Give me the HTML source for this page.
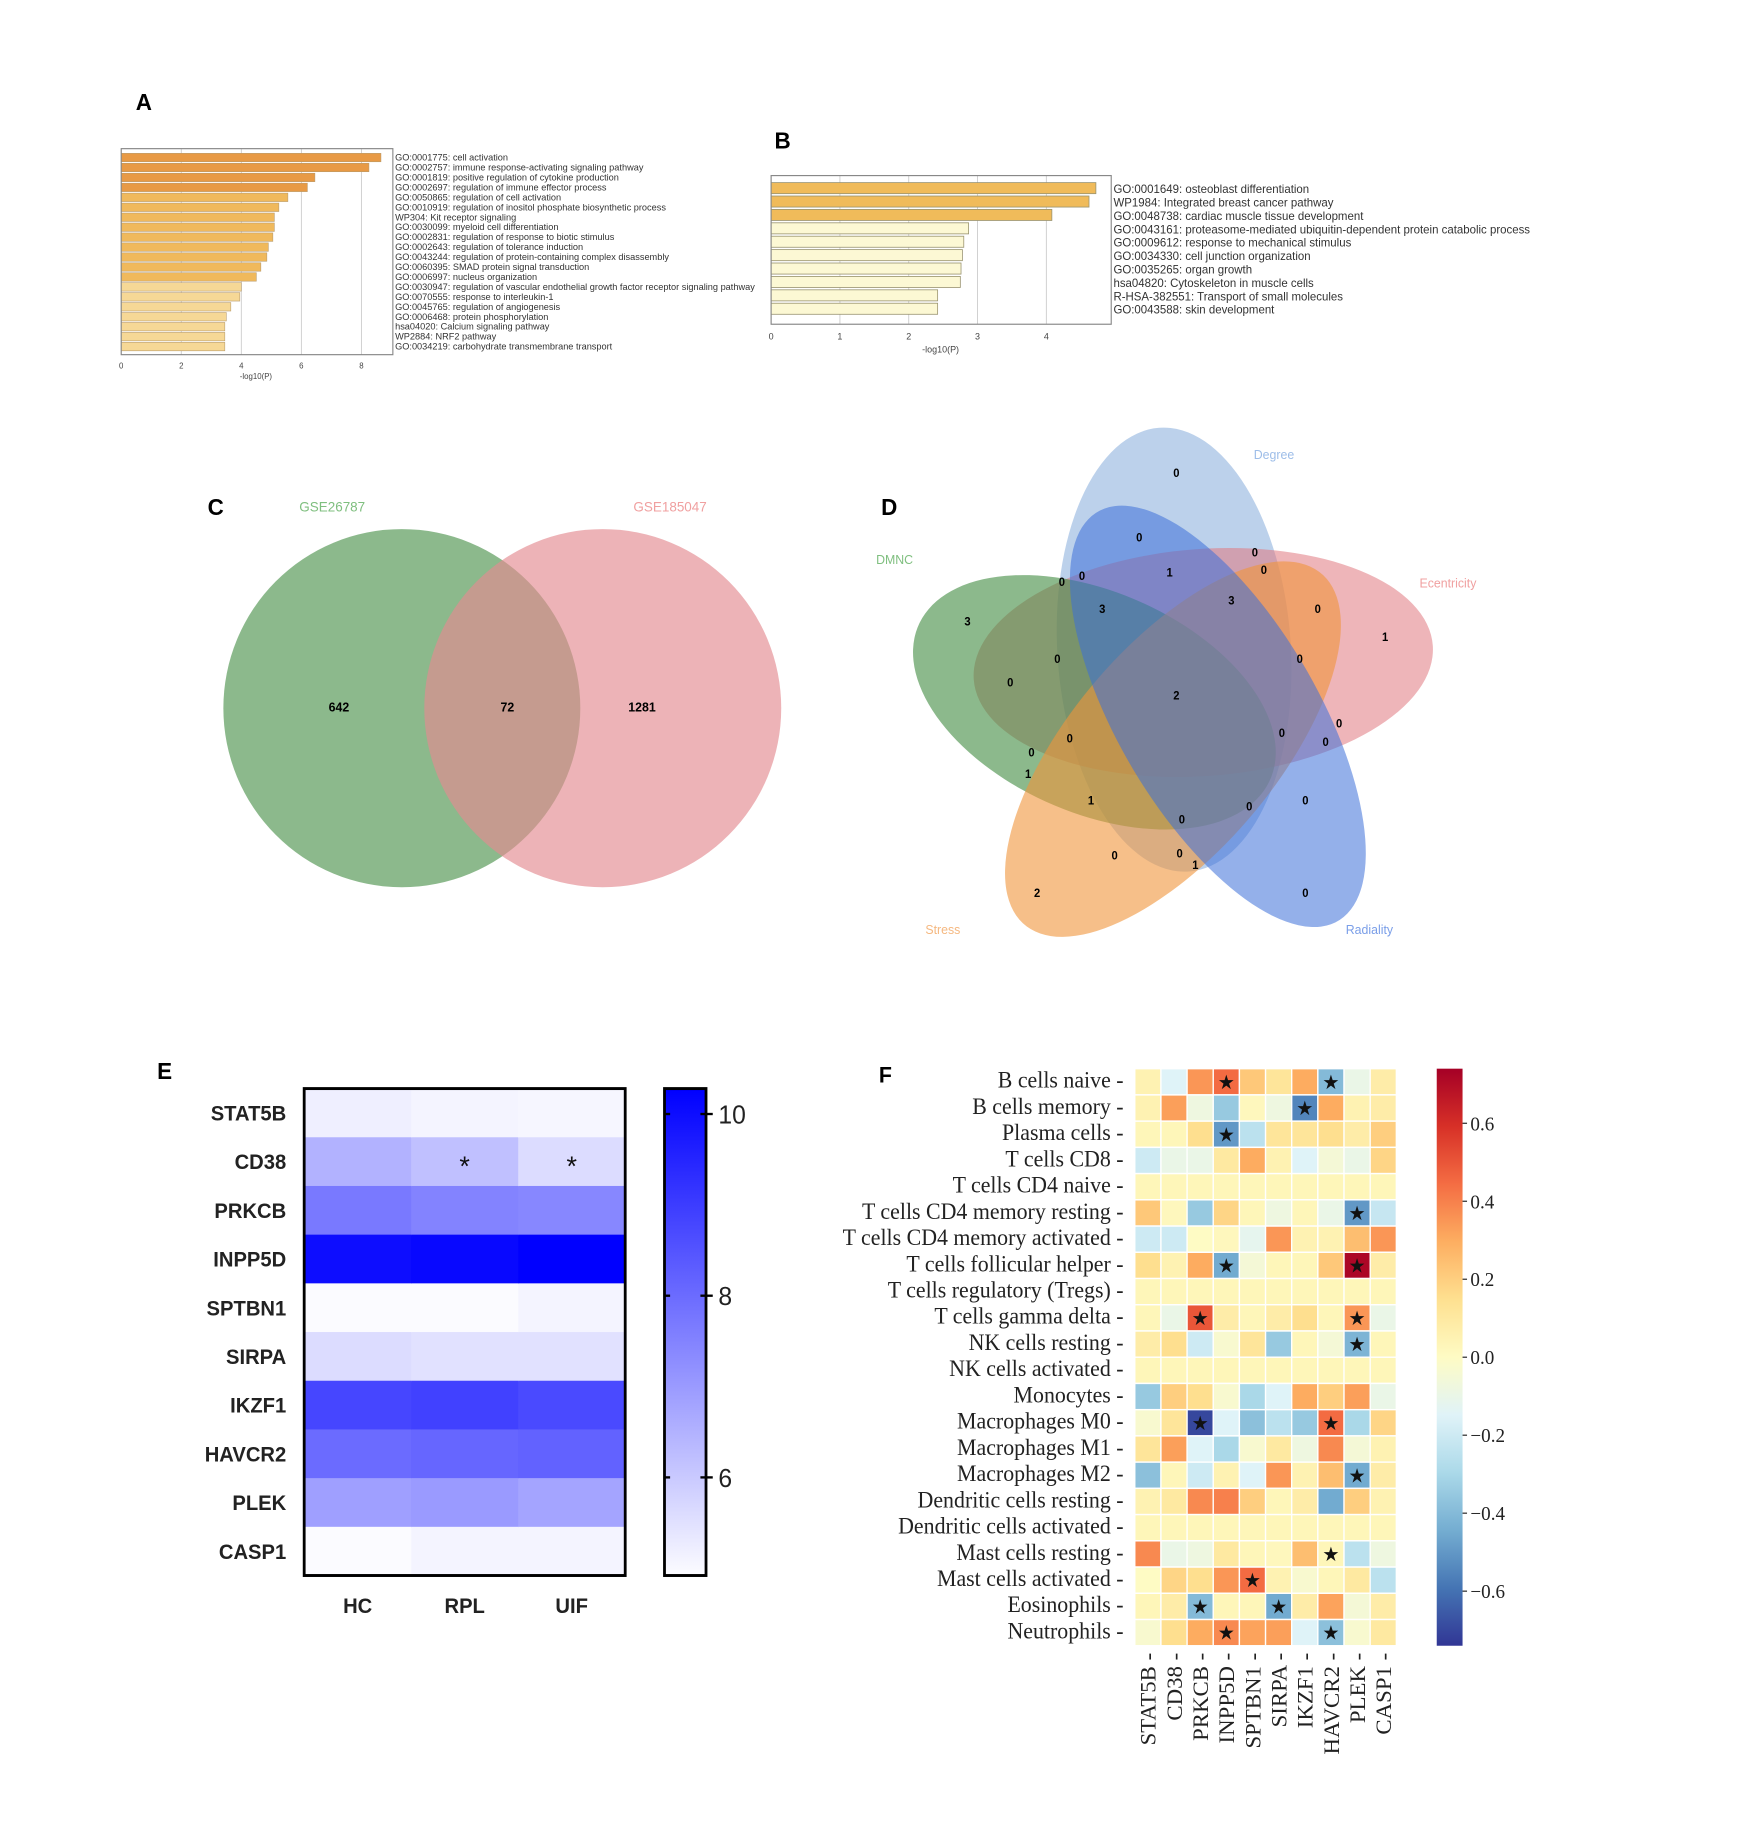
<!DOCTYPE html>
<html><head><meta charset="utf-8"><style>
html,body{margin:0;padding:0;background:#fff;}
svg{display:block;}
</style></head><body>
<svg id="fig" xmlns="http://www.w3.org/2000/svg" width="1760" height="1826" viewBox="0 0 1568 1560" preserveAspectRatio="none" font-family="Liberation Sans, sans-serif">
<rect width="1568" height="1560" fill="#fff"/>
<g id="pA"></g>
<g id="pB"></g>
<g id="pC">
  <text x="185" y="440" font-size="20" font-weight="bold">C</text>
  <ellipse cx="358" cy="605" rx="159" ry="153" fill="#4e934e" fill-opacity="0.65"/>
  <ellipse cx="537" cy="605" rx="159" ry="153" fill="#e48a90" fill-opacity="0.65"/>
  <text x="296" y="437" font-size="12" fill="#7fbf7f" text-anchor="middle">GSE26787</text>
  <text x="597" y="437" font-size="12" fill="#f0a0a0" text-anchor="middle">GSE185047</text>
  <text x="302" y="608" font-size="11" font-weight="bold" text-anchor="middle">642</text>
  <text x="452" y="608" font-size="11" font-weight="bold" text-anchor="middle">72</text>
  <text x="572" y="608" font-size="11" font-weight="bold" text-anchor="middle">1281</text>
</g>
<g id="pD">
  <text x="785" y="440" font-size="20" font-weight="bold">D</text>
  <ellipse cx="1046" cy="555" rx="104" ry="190" transform="rotate(-4 1046 555)" fill="#8fb3de" fill-opacity="0.6"/>
  <ellipse cx="1072" cy="566" rx="205" ry="97" transform="rotate(-4 1072 566)" fill="#e0787f" fill-opacity="0.55"/>
  <ellipse cx="975" cy="600" rx="170" ry="95" transform="rotate(22 975 600)" fill="#3f8a3f" fill-opacity="0.6"/>
  <ellipse cx="1045" cy="640" rx="200" ry="90" transform="rotate(-48 1045 640)" fill="#f0953a" fill-opacity="0.6"/>
  <ellipse cx="1085" cy="612" rx="205" ry="88" transform="rotate(58 1085 612)" fill="#3c6fd8" fill-opacity="0.55"/>
  <text x="1135" y="392" font-size="11" fill="#9dbde8" text-anchor="middle">Degree</text>
  <text x="797" y="482" font-size="11" fill="#7fbf7f" text-anchor="middle">DMNC</text>
  <text x="1290" y="502" font-size="11" fill="#f0a0a0" text-anchor="middle">Ecentricity</text>
  <text x="840" y="798" font-size="11" fill="#f5b880" text-anchor="middle">Stress</text>
  <text x="1220" y="798" font-size="11" fill="#7a9ee8" text-anchor="middle">Radiality</text>
  <g id="dnums" font-size="10" font-weight="bold" text-anchor="middle"></g>
</g>
<g id="pE" transform="translate(0,-4)"></g>
<g id="pF" transform="translate(0,-4)"></g>
</svg>
<script>
const NS='http://www.w3.org/2000/svg';
function mk(parent,tag,attrs,txt){const e=document.createElementNS(NS,tag);for(const k in attrs)e.setAttribute(k,attrs[k]);if(txt!==undefined)e.textContent=txt;parent.appendChild(e);return e;}

// ---------- Panel A data ----------
const aTerms=["GO:0001775: cell activation","GO:0002757: immune response-activating signaling pathway","GO:0001819: positive regulation of cytokine production","GO:0002697: regulation of immune effector process","GO:0050865: regulation of cell activation","GO:0010919: regulation of inositol phosphate biosynthetic process","WP304: Kit receptor signaling","GO:0030099: myeloid cell differentiation","GO:0002831: regulation of response to biotic stimulus","GO:0002643: regulation of tolerance induction","GO:0043244: regulation of protein-containing complex disassembly","GO:0060395: SMAD protein signal transduction","GO:0006997: nucleus organization","GO:0030947: regulation of vascular endothelial growth factor receptor signaling pathway","GO:0070555: response to interleukin-1","GO:0045765: regulation of angiogenesis","GO:0006468: protein phosphorylation","hsa04020: Calcium signaling pathway","WP2884: NRF2 pathway","GO:0034219: carbohydrate transmembrane transport"];
const aValues=[8.65,8.25,6.45,6.2,5.55,5.25,5.1,5.1,5.05,4.9,4.85,4.65,4.5,4.0,3.95,3.65,3.5,3.45,3.45,3.45];
const aTicks=[0,2,4,6,8];
// ---------- Panel B data ----------
const bTerms=["GO:0001649: osteoblast differentiation","WP1984: Integrated breast cancer pathway","GO:0048738: cardiac muscle tissue development","GO:0043161: proteasome-mediated ubiquitin-dependent protein catabolic process","GO:0009612: response to mechanical stimulus","GO:0034330: cell junction organization","GO:0035265: organ growth","hsa04820: Cytoskeleton in muscle cells","R-HSA-382551: Transport of small molecules","GO:0043588: skin development"];
const bValues=[4.72,4.62,4.08,2.87,2.8,2.78,2.76,2.75,2.42,2.42];
const bTicks=[0,1,2,3,4];
// ---------- Panel D numbers ----------
const dNums=[["0",1048,404],["0",1015,459],["1",1042,489],["0",1118,472],["0",1126,487],["0",946,497],["0",964,492],["3",982,520],["3",1097,513],["0",1174,520],["3",862,531],["1",1234,544],["0",942,563],["0",1158,563],["0",900,583],["2",1048,594],["0",1193,618],["0",1142,626],["0",1181,634],["0",953,631],["0",919,643],["1",916,661],["1",972,684],["0",1113,689],["0",1163,684],["0",1053,700],["0",993,731],["0",1051,729],["1",1065,739],["2",924,763],["0",1163,763]];
// ---------- Panel E data ----------
const eGenes=["STAT5B","CD38","PRKCB","INPP5D","SPTBN1","SIRPA","IKZF1","HAVCR2","PLEK","CASP1"];
const eGroups=["HC","RPL","UIF"];
const eHC=[5.2,6.5,7.7,10.0,4.95,5.6,8.8,8.0,6.9,4.95];
const eRPL=[5.1,6.2,7.5,10.1,4.95,5.5,8.9,8.1,7.0,5.1];
const eUIF=[5.05,5.6,7.4,10.3,5.1,5.5,8.7,8.2,6.8,5.1];
const eStars=[[1,1],[1,2]];
const eTicks=[6,8,10];
// ---------- Panel F data ----------
const fCells=["B cells naive","B cells memory","Plasma cells","T cells CD8","T cells CD4 naive","T cells CD4 memory resting","T cells CD4 memory activated","T cells follicular helper","T cells regulatory (Tregs)","T cells gamma delta","NK cells resting","NK cells activated","Monocytes","Macrophages M0","Macrophages M1","Macrophages M2","Dendritic cells resting","Dendritic cells activated","Mast cells resting","Mast cells activated","Eosinophils","Neutrophils"];
const fGenes=["STAT5B","CD38","PRKCB","INPP5D","SPTBN1","SIRPA","IKZF1","HAVCR2","PLEK","CASP1"];
const fR0=[0.05,-0.15,0.35,0.45,0.22,0.12,0.3,-0.4,-0.1,0.08];
const fR1=[0.05,0.33,-0.08,-0.35,0.02,-0.08,-0.55,0.3,0.05,0.08];
const fR2=[0.03,0.03,0.15,-0.5,-0.25,0.12,0.12,0.15,0.08,0.2];
const fR3=[-0.2,-0.1,-0.1,0.1,0.3,0.05,-0.15,-0.05,-0.1,0.18];
const fR4=[0.03,0.03,0.03,0.03,0.03,0.03,0.03,0.03,0.03,0.03];
const fR5=[0.22,0.02,-0.35,0.18,0.03,-0.08,0.03,-0.1,-0.5,-0.22];
const fR6=[-0.2,-0.2,0.0,0.02,-0.12,0.35,0.05,0.05,0.25,0.35];
const fR7=[0.15,0.05,0.3,-0.45,-0.05,0.03,0.03,0.22,0.72,0.08];
const fR8=[0.03,0.03,0.03,0.03,0.03,0.03,0.03,0.03,0.03,0.03];
const fR9=[0.03,-0.1,0.5,0.08,0.03,0.08,0.15,0.03,0.35,-0.1];
const fR10=[0.08,0.15,-0.2,-0.03,0.12,-0.35,0.03,-0.05,-0.42,0.03];
const fR11=[0.03,0.03,0.03,0.03,0.03,0.03,0.03,0.03,0.03,0.03];
const fR12=[-0.35,0.2,0.15,-0.03,-0.3,-0.15,0.3,0.2,0.33,-0.1];
const fR13=[-0.03,0.12,-0.7,-0.15,-0.38,-0.25,-0.35,0.45,-0.3,0.18];
const fR14=[0.12,0.33,-0.15,-0.3,-0.03,0.1,-0.08,0.38,-0.05,0.05];
const fR15=[-0.38,0.03,-0.2,0.05,-0.15,0.35,0.05,0.25,-0.45,0.08];
const fR16=[0.05,0.1,0.38,0.4,0.2,0.03,0.08,-0.45,0.2,0.05];
const fR17=[0.03,0.03,0.03,0.03,0.03,0.03,0.03,0.03,0.03,0.03];
const fR18=[0.38,-0.1,-0.08,0.1,0.03,0.02,0.25,0.03,-0.25,-0.08];
const fR19=[0.0,0.18,0.15,0.35,0.45,0.05,-0.03,0.03,0.1,-0.25];
const fR20=[0.03,0.08,-0.4,0.03,0.03,-0.45,0.08,0.32,-0.05,0.08];
const fR21=[-0.03,0.15,0.3,0.38,0.32,0.33,-0.15,-0.38,-0.03,0.1];
const fStars=[[0,3],[0,7],[1,6],[2,3],[5,8],[7,3],[7,8],[9,2],[9,8],[10,8],[13,2],[13,7],[15,8],[18,7],[19,4],[20,2],[20,5],[21,3],[21,7]];
const fTicks=[0.6,0.4,0.2,0.0,-0.2,-0.4,-0.6];

// ===== Panel A =====
(function(){
const g=document.getElementById('pA');
mk(g,'text',{x:121,y:94,'font-size':20,'font-weight':'bold',},'A');
const L=108,T=127,R=350,B=303,x0=108,pu=26.75;
const sx=v=>x0+v*pu;
const pitch=(B-T-6)/aValues.length;
aTicks.forEach(t=>{
  const gl=mk(g,'line',{x1:sx(t),x2:sx(t),y1:T,y2:B,stroke:'#ccc','stroke-width':0.8});
  
  const tl=mk(g,'text',{x:sx(t),y:315,'font-size':7,fill:'#444','text-anchor':'middle'},String(t));
  
});
aValues.forEach((v,i)=>{
  const y=T+4+i*pitch;
  const f=i<4?'#e89a45':(i<13?'#f0b95c':'#f6d896');
  const r=mk(g,'rect',{x:L,y:y,width:sx(v)-L,height:pitch-1.3,fill:f,stroke:'#b89a6a','stroke-width':0.5});
  
  const t=mk(g,'text',{x:352,y:y+pitch-2.3,'font-size':8.2,fill:'#333'},aTerms[i]);
  
});
const fr=mk(g,'rect',{x:L,y:T,width:R-L,height:B-T,fill:'none',stroke:'#888','stroke-width':1});

const xl=mk(g,'text',{x:228,y:324,'font-size':7,fill:'#444','text-anchor':'middle'},'-log10(P)');

})();

// ===== Panel B =====
(function(){
const g=document.getElementById('pB');
mk(g,'text',{x:690,y:127,'font-size':20,'font-weight':'bold',},'B');
const L=687,T=150,R=990,B=277,x0=687,pu=61.3;
const sx=v=>x0+v*pu;
const pitch=11.45;
bTicks.forEach(t=>{
  const gl=mk(g,'line',{x1:sx(t),x2:sx(t),y1:T,y2:B,stroke:'#ccc','stroke-width':0.8});
  
  const tl=mk(g,'text',{x:sx(t),y:290,'font-size':8,fill:'#444','text-anchor':'middle'},String(t));
  
});
bValues.forEach((v,i)=>{
  const y=T+6+i*pitch;
  const f=i<3?'#f0bb5a':'#fcf8d4';
  const r=mk(g,'rect',{x:L,y:y,width:sx(v)-L,height:pitch-2,fill:f,stroke:'#9a9470','stroke-width':0.7});
  
  const t=mk(g,'text',{x:992,y:y+pitch-2.5,'font-size':10.2,fill:'#333'},bTerms[i]);
  
});
const fr=mk(g,'rect',{x:L,y:T,width:R-L,height:B-T,fill:'none',stroke:'#888','stroke-width':1});

const xl=mk(g,'text',{x:838,y:301,'font-size':8,fill:'#444','text-anchor':'middle'},'-log10(P)');

})();

// ===== Panel D numbers =====
(function(){
const g=document.getElementById('dnums');
dNums.forEach(d=>{
  const t=mk(g,'text',{x:d[1],y:d[2]+3.5},d[0]);
  
});
})();

// ===== Panel E =====
(function(){
const g=document.getElementById('pE');
mk(g,'text',{x:140,y:926,'font-size':20,'font-weight':'bold',},'E');
const L=271,T=934,R=557,B=1350;
const cols=[eHC,eRPL,eUIF];
const cw=(R-L)/3,rh=(B-T)/eGenes.length;
const vmin=4.92,vmax=10.28;
const col=v=>{const t=Math.max(0,Math.min(1,(v-vmin)/(vmax-vmin)));return `rgb(${Math.round(252-252*t)},${Math.round(252-252*t)},255)`;};
cols.forEach((arr,j)=>arr.forEach((v,i)=>{
  const r=mk(g,'rect',{x:L+j*cw,y:T+i*rh,width:cw+0.5,height:rh+0.5,fill:col(v)});
  
}));
eStars.forEach(s=>{
  const t=mk(g,'text',{x:L+(s[1]+0.5)*cw,y:T+(s[0]+0.5)*rh+12,'font-size':24,'text-anchor':'middle',fill:'#111'},'*');
  
});
const fr=mk(g,'rect',{x:L,y:T,width:R-L,height:B-T,fill:'none',stroke:'#000','stroke-width':2.5});

eGenes.forEach((n,i)=>{
  const t=mk(g,'text',{x:255,y:T+(i+0.5)*rh+6.5,'font-size':18,'font-weight':'bold','text-anchor':'end',fill:'#222'},n);
  
});
eGroups.forEach((n,j)=>{
  const t=mk(g,'text',{x:L+(j+0.5)*cw,y:1382,'font-size':18,'font-weight':'bold','text-anchor':'middle',fill:'#222'},n);
  
});
const cL=592,cR=629;
const defs=mk(g,'defs',{});
const lg=mk(defs,'linearGradient',{id:'eg',x1:0,y1:1,x2:0,y2:0});
mk(lg,'stop',{offset:0,'stop-color':'rgb(252,252,255)'});
mk(lg,'stop',{offset:1,'stop-color':'rgb(0,0,255)'});
const cb=mk(g,'rect',{x:cL,y:T,width:cR-cL,height:B-T,fill:'url(#eg)',stroke:'#000','stroke-width':2.5});

const cy=v=>B-(v-vmin)/(vmax-vmin)*(B-T);
eTicks.forEach(v=>{
  mk(g,'line',{x1:cL,x2:cL+5,y1:cy(v),y2:cy(v),stroke:'#000','stroke-width':2});
  mk(g,'line',{x1:cR-5,x2:cR+6,y1:cy(v),y2:cy(v),stroke:'#000','stroke-width':2});
  const t=mk(g,'text',{x:640,y:cy(v)+8,'font-size':22,fill:'#222'},String(v));
  
});
})();

// ===== Panel F =====
(function(){
const g=document.getElementById('pF');
mk(g,'text',{x:783,y:929,'font-size':19,'font-weight':'bold',},'F');
const rows=[fR0,fR1,fR2,fR3,fR4,fR5,fR6,fR7,fR8,fR9,fR10,fR11,fR12,fR13,fR14,fR15,fR16,fR17,fR18,fR19,fR20,fR21];
const L=1011,R=1244,T=917,B=1410;
const cw=(R-L)/fGenes.length,rh=(B-T)/fCells.length;
const vmin=-0.74,vmax=0.74;
const stops=['#313695','#4575b4','#74add1','#abd9e9','#e0f3f8','#fefbc4','#fee090','#fdae61','#f46d43','#d73027','#a50026'];
const hx=h=>[1,3,5].map(i=>parseInt(h.substr(i,2),16));
const cmap=v=>{let t=(v-vmin)/(vmax-vmin);t=Math.max(0,Math.min(1,t))*10;const i=Math.min(9,Math.floor(t)),f=t-i;const a=hx(stops[i]),b=hx(stops[i+1]);return `rgb(${a.map((c,k)=>Math.round(c+(b[k]-c)*f)).join(',')})`;};
rows.forEach((arr,i)=>arr.forEach((v,j)=>{
  const r=mk(g,'rect',{x:L+j*cw,y:T+i*rh,width:cw,height:rh,fill:cmap(v),stroke:'#fff','stroke-width':1.2});
  
}));
fStars.forEach(s=>{
  const t=mk(g,'text',{x:L+(s[1]+0.5)*cw,y:T+(s[0]+0.5)*rh+6,'font-size':17,'text-anchor':'middle',fill:'#111','font-family':'DejaVu Sans, sans-serif'},'\u2605');
  
});
fCells.forEach((n,i)=>{
  const t=mk(g,'text',{x:1001,y:T+(i+0.5)*rh+5,'font-size':19.5,'text-anchor':'end',fill:'#222','font-family':'Liberation Serif, serif'},n+' -');
  
});
fGenes.forEach((n,j)=>{
  const x=L+(j+0.5)*cw;
  const t=mk(g,'text',{x:x+7,y:1416,'font-size':19.5,'text-anchor':'end',fill:'#222','font-family':'Liberation Serif, serif',transform:`rotate(-90 ${x+7} 1416)`},n+' -');
  
});
const cL=1280,cR=1303;
const defs=mk(g,'defs',{});
const lg=mk(defs,'linearGradient',{id:'fg',x1:0,y1:1,x2:0,y2:0});
stops.forEach((c,k)=>mk(lg,'stop',{offset:k/10,'stop-color':c}));
const cb=mk(g,'rect',{x:cL,y:T,width:cR-cL,height:B-T,fill:'url(#fg)'});

const cy=v=>B-(v-vmin)/(vmax-vmin)*(B-T);
fTicks.forEach(v=>{
  mk(g,'line',{x1:cR,x2:cR+4,y1:cy(v),y2:cy(v),stroke:'#222','stroke-width':1});
  const lab=(v<0?'\u2212':'')+Math.abs(v).toFixed(1);
  const t=mk(g,'text',{x:cR+7,y:cy(v)+6,'font-size':17,fill:'#222','font-family':'Liberation Serif, serif'},lab);
  
});
})();
</script>
</body></html>
